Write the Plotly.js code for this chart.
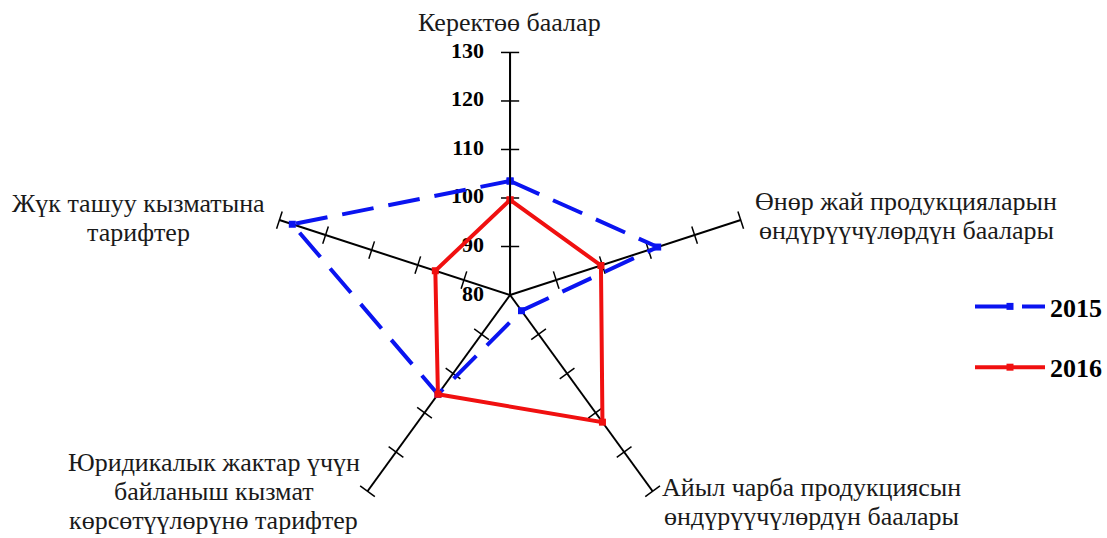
<!DOCTYPE html>
<html>
<head>
<meta charset="utf-8">
<script src="https://cdn.plot.ly/plotly-3.0.1.min.js"></script>
<style>
  html, body { margin: 0; padding: 0; background: #fff; }
  #radar { width: 1107px; height: 538px; }
</style>
</head>
<body>
<div id="radar"></div>
<script>
var categorias = [
    'Керектөө баалар',
    'Өнөр жай продукцияларын<br>өндүрүүчүлөрдүн баалары',
    'Айыл чарба продукциясын<br>өндүрүүчүлөрдүн баалары',
    'Юридикалык жактар үчүн<br>байланыш кызмат<br>көрсөтүүлөрүнө тарифтер',
    'Жүк ташуу кызматына<br>тарифтер'
];
var valores2015 = [103.5, 112, 84, 105.3, 127.2];
var valores2016 = [99.6, 99.7, 112.4, 105.3, 96.2];
var marcasEje = [80, 90, 100, 110, 120, 130];

var ANCHO = 1107, ALTO = 538;
var fuente = 'Liberation Serif, Times New Roman, serif';

// donde van los nombres de cada eje (centro del bloque, en pixeles)
var posEtiquetas = [
    [510, 22],
    [908, 216],
    [813, 502],
    [214, 491],
    [139, 218]
];
var interlineado = 29;

// cerrar el poligono repitiendo el primer punto
function cerrar(a) {
    return a.concat([a[0]]);
}

// rayitas sobre cada eje (perpendiculares)
var rMarcas = [], tMarcas = [], angMarcas = [];
categorias.forEach(function(cat, i) {
    marcasEje.slice(1).forEach(function(v) {
        rMarcas.push(v);
        tMarcas.push(cat);
        angMarcas.push(i * 360 / categorias.length);
    });
});

var trazaMarcas = {
    type: 'scatterpolar',
    mode: 'markers',
    r: rMarcas,
    theta: tMarcas,
    marker: {
        symbol: 'line-ew',
        size: 13,
        angle: angMarcas,
        line: { color: '#000', width: 1.5 }
    },
    hoverinfo: 'skip',
    showlegend: false
};

// numeros del eje vertical, a la izquierda
var trazaNumeros = {
    type: 'scatterpolar',
    mode: 'markers+text',
    r: marcasEje,
    theta: marcasEje.map(function() { return categorias[0]; }),
    text: marcasEje.map(String),
    textposition: 'middle left',
    textfont: { family: fuente, size: 22, color: '#000', weight: 'bold' },
    marker: { size: 40, color: 'rgba(0,0,0,0)' },
    cliponaxis: false,
    hoverinfo: 'skip',
    showlegend: false
};

var traza2015 = {
    type: 'scatterpolar',
    mode: 'lines+markers',
    name: '2015',
    r: cerrar(valores2015),
    theta: cerrar(categorias),
    line: { color: '#0a14f0', width: 4, dash: '32px,15px' },
    marker: { symbol: 'square', size: 7, color: '#0a14f0' },
    legendgroup: 'a'
};

var traza2016 = {
    type: 'scatterpolar',
    mode: 'lines+markers',
    name: '2016',
    r: cerrar(valores2016),
    theta: cerrar(categorias),
    line: { color: '#f01010', width: 4 },
    marker: { symbol: 'square', size: 7, color: '#f01010' },
    legendgroup: 'b'
};

// una anotacion por renglon, para controlar el interlineado
var anotaciones = [];
categorias.forEach(function(cat, i) {
    var renglones = cat.split('<br>');
    renglones.forEach(function(txt, k) {
        var yPx = posEtiquetas[i][1] + (k - (renglones.length - 1) / 2) * interlineado;
        anotaciones.push({
            text: txt,
            xref: 'paper', yref: 'paper',
            x: posEtiquetas[i][0] / ANCHO,
            y: 1 - yPx / ALTO,
            xanchor: 'center', yanchor: 'middle',
            showarrow: false,
            font: { family: fuente, size: 26, color: '#1a1a1a' }
        });
    });
});

var layout = {
    width: ANCHO,
    height: ALTO,
    margin: { l: 0, r: 0, t: 0, b: 0 },
    paper_bgcolor: '#fff',
    font: { family: fuente, size: 20, color: '#1a1a1a' },
    polar: {
        domain: { x: [0.2421, 0.6811], y: [0, 0.9033] },
        bgcolor: 'rgba(0,0,0,0)',
        angularaxis: {
            type: 'category',
            rotation: 90,
            direction: 'clockwise',
            showline: false,
            showgrid: true,
            gridcolor: '#000',
            gridwidth: 1.5,
            ticks: '',
            showticklabels: false
        },
        radialaxis: {
            range: [80, 130],
            angle: 90,
            tickvals: marcasEje,
            ticks: '',
            showgrid: false,
            showline: true,
            linecolor: '#000',
            linewidth: 1.5,
            showticklabels: false
        }
    },
    annotations: anotaciones,
    legend: {
        x: 0.878,
        y: 0.474,
        xanchor: 'left',
        yanchor: 'top',
        itemwidth: 70,
        tracegroupgap: 24,
        font: { family: fuente, size: 26, color: '#000', weight: 'bold' }
    },
    showlegend: true
};

Plotly.newPlot('radar', [trazaMarcas, trazaNumeros, traza2015, traza2016], layout, { displayModeBar: false });
</script>
</body>
</html>
